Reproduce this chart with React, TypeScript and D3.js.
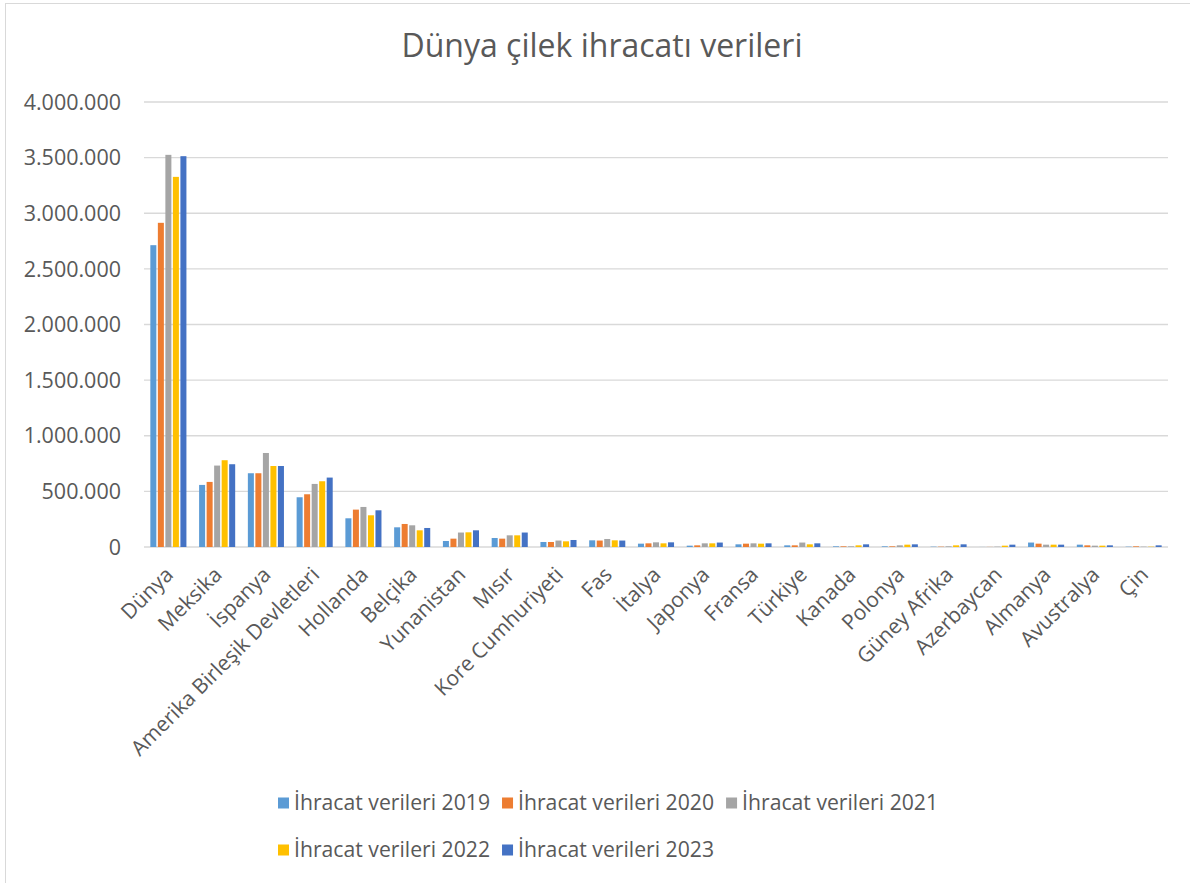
import * as d3 from "d3";
import { useEffect, useRef } from "react";

const categories = [
	"Dünya",
	"Meksika",
	"İspanya",
	"Amerika Birleşik Devletleri",
	"Hollanda",
	"Belçika",
	"Yunanistan",
	"Mısır",
	"Kore Cumhuriyeti",
	"Fas",
	"İtalya",
	"Japonya",
	"Fransa",
	"Türkiye",
	"Kanada",
	"Polonya",
	"Güney Afrika",
	"Azerbaycan",
	"Almanya",
	"Avustralya",
	"Çin",
];

const seriesNames = [
	"İhracat verileri 2019",
	"İhracat verileri 2020",
	"İhracat verileri 2021",
	"İhracat verileri 2022",
	"İhracat verileri 2023",
];

const values2019 = [2713000, 558000, 663000, 447000, 258000, 177000, 54000, 81000, 45000, 60000, 30000, 12000, 24000, 15000, 6000, 6000, 3000, 500, 40000, 21000, 3000];
const values2020 = [2914000, 585000, 663000, 474000, 336000, 207000, 75000, 75000, 45000, 58000, 33000, 15000, 30000, 15000, 6000, 6000, 3000, 1000, 30000, 15000, 6000];
const values2021 = [3525000, 732000, 845000, 567000, 360000, 195000, 130000, 105000, 58000, 72000, 42000, 33000, 33000, 40000, 6000, 15000, 6000, 3000, 21000, 12000, 3000];
const values2022 = [3327000, 780000, 728000, 591000, 285000, 150000, 132000, 105000, 51000, 60000, 33000, 33000, 30000, 24000, 15000, 21000, 15000, 12000, 21000, 12000, 3000];
const values2023 = [3513000, 744000, 728000, 624000, 330000, 171000, 150000, 130000, 63000, 58000, 42000, 40000, 33000, 33000, 24000, 24000, 24000, 21000, 21000, 15000, 15000];

const yTicks = [0, 500000, 1000000, 1500000, 2000000, 2500000, 3000000, 3500000, 4000000];
const colors = ["#5B9BD5", "#ED7D31", "#A5A5A5", "#FFC000", "#4472C4"];

const W = 1190;
const H = 883;
const FONT = "'Open Sans', 'Noto Sans', sans-serif";

export default function App() {
	const ref = useRef<SVGSVGElement | null>(null);

	useEffect(() => {
		if (!ref.current) return;
		const svg = d3.select(ref.current);
		svg.selectAll("*").remove();

		const allSeries = [values2019, values2020, values2021, values2022, values2023];
		const left = 144;
		const right = 1168;
		const top = 102;
		const bottom = 547;

		svg
			.append("rect")
			.attr("x", 5.5)
			.attr("y", 3.5)
			.attr("width", W + 20)
			.attr("height", H + 20)
			.attr("fill", "white")
			.attr("stroke", "#d9d9d9");

		svg
			.append("text")
			.attr("x", 602)
			.attr("y", 57)
			.attr("text-anchor", "middle")
			.attr("font-size", 32)
			.attr("fill", "#595959")
			.text("Dünya çilek ihracatı verileri");

		const y = d3.scaleLinear().domain([0, 4000000]).range([bottom, top]);
		const x0 = d3.scaleBand().domain(categories).range([left, right]).paddingInner(0.26).paddingOuter(0.13);
		const x1 = d3
			.scaleBand()
			.domain(seriesNames)
			.range([0, x0.bandwidth()])
			.paddingInner(0.2);

		const locale = d3.formatLocale({ decimal: ",", thousands: ".", grouping: [3], currency: ["", ""] });
		const fmt = locale.format(",");

		svg
			.append("g")
			.selectAll("line")
			.data(yTicks)
			.join("line")
			.attr("x1", left)
			.attr("x2", right)
			.attr("y1", (d) => y(d))
			.attr("y2", (d) => y(d))
			.attr("stroke", "#d9d9d9")
			.attr("stroke-width", 1.3);

		svg
			.append("g")
			.selectAll("text")
			.data(yTicks)
			.join("text")
			.attr("x", 121)
			.attr("y", (d) => y(d))
			.attr("dy", "0.36em")
			.attr("text-anchor", "end")
			.attr("font-size", 21.5)
			.attr("fill", "#595959")
			.text((d) => fmt(d));

		const groups = svg
			.append("g")
			.selectAll("g")
			.data(categories)
			.join("g")
			.attr("transform", (d) => `translate(${x0(d)},0)`);

		groups
			.selectAll("rect")
			.data((_, i) => allSeries.map((s, k) => ({ key: seriesNames[k], value: s[i], k })))
			.join("rect")
			.attr("x", (d) => x1(d.key) ?? 0)
			.attr("width", x1.bandwidth())
			.attr("y", (d) => y(d.value))
			.attr("height", (d) => bottom - y(d.value))
			.attr("fill", (d) => colors[d.k]);

		svg
			.append("g")
			.selectAll("text")
			.data(categories)
			.join("text")
			.attr("transform", (d) => `translate(${(x0(d) ?? 0) + x0.bandwidth() / 2 + 6},${bottom + 29}) rotate(-45)`)
			.attr("text-anchor", "end")
			.attr("font-size", 21)
			.attr("fill", "#595959")
			.text((d) => d);

		// legend, wraps after three entries
		const legend = svg.append("g").attr("font-size", 21.2).attr("fill", "#595959");
		const rows = [seriesNames.slice(0, 3), seriesNames.slice(3)];
		const rowY = [803, 850];
		rows.forEach((row, r) => {
			let cx = 278;
			row.forEach((name) => {
				const k = seriesNames.indexOf(name);
				legend
					.append("rect")
					.attr("x", cx)
					.attr("y", rowY[r] - 5.5)
					.attr("width", 11)
					.attr("height", 11)
					.attr("fill", colors[k]);
				const t = legend
					.append("text")
					.attr("x", cx + 16)
					.attr("y", rowY[r])
					.attr("dy", "0.35em")
					.text(name);
				const w = (t.node() as SVGTextElement).getComputedTextLength();
				cx += 16 + w + 12;
			});
		});
	}, []);

	return (
		<svg
			ref={ref}
			width={W}
			height={H}
			style={{ position: "absolute", left: 0, top: 0, fontFamily: FONT }}
		></svg>
	);
}
